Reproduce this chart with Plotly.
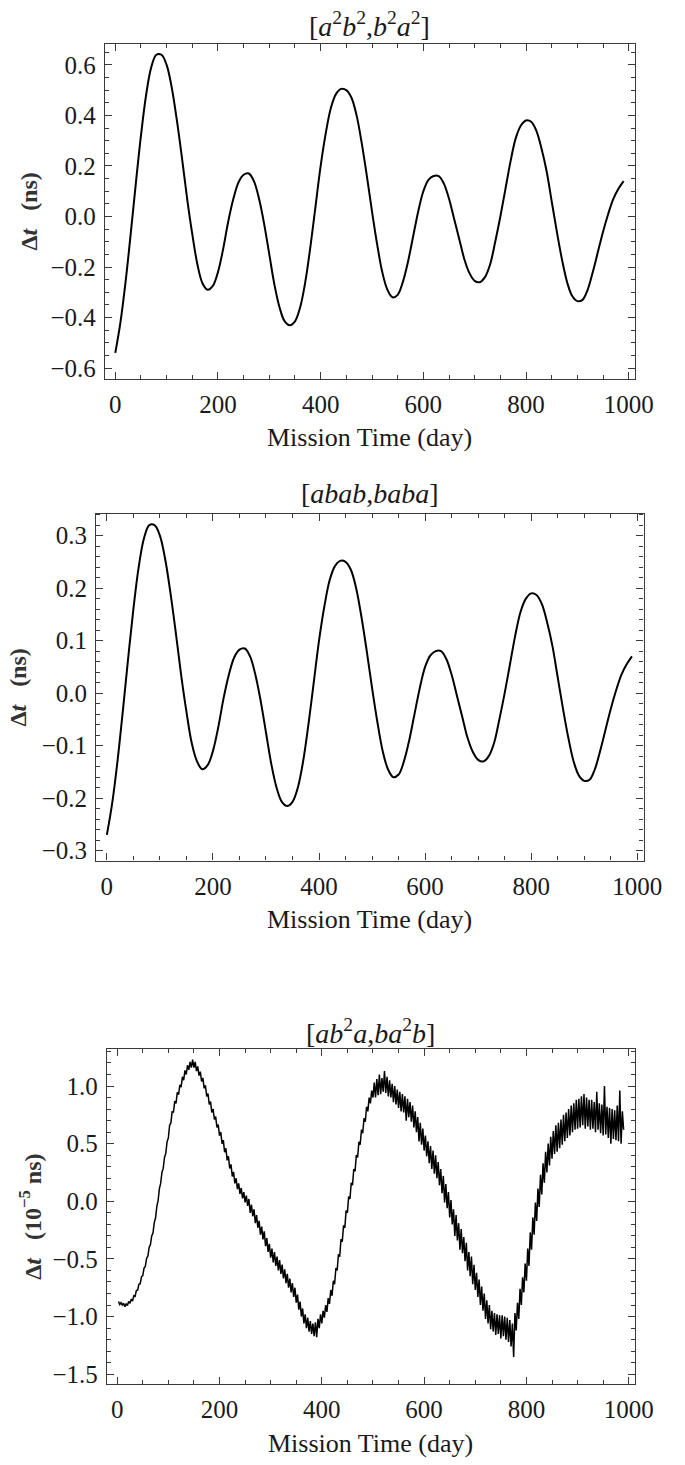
import plotly.graph_objects as go

# ---------------- data ----------------
days_smooth = list(range(0, 1000, 10))

dt_a2b2 = [-0.54, -0.42, -0.26, -0.07, 0.13, 0.32, 0.48, 0.59, 0.64, 0.64,
           0.60, 0.51, 0.38, 0.23, 0.07, -0.07, -0.19, -0.265, -0.29, -0.275,
           -0.22, -0.13, -0.02, 0.07, 0.135, 0.165, 0.17, 0.14, 0.07, -0.03,
           -0.15, -0.27, -0.36, -0.415, -0.43, -0.415, -0.36, -0.26, -0.12, 0.04,
           0.20, 0.33, 0.43, 0.485, 0.505, 0.50, 0.47, 0.40, 0.29, 0.16,
           0.02, -0.11, -0.22, -0.29, -0.32, -0.31, -0.26, -0.18, -0.08, 0.02,
           0.10, 0.145, 0.16, 0.16, 0.13, 0.07, -0.01, -0.09, -0.17, -0.225,
           -0.255, -0.26, -0.24, -0.19, -0.10, 0.00, 0.11, 0.22, 0.31, 0.36,
           0.38, 0.375, 0.34, 0.27, 0.18, 0.06, -0.06, -0.17, -0.26, -0.315,
           -0.335, -0.33, -0.29, -0.22, -0.14, -0.06, 0.01, 0.07, 0.11, 0.14]

dt_abab = [-0.27, -0.21, -0.13, -0.035, 0.065, 0.16, 0.24, 0.295, 0.32, 0.32,
           0.30, 0.255, 0.19, 0.115, 0.035, -0.035, -0.095, -0.13, -0.145, -0.137,
           -0.11, -0.065, -0.01, 0.035, 0.068, 0.083, 0.085, 0.07, 0.035, -0.015,
           -0.075, -0.135, -0.18, -0.207, -0.215, -0.207, -0.18, -0.13, -0.06, 0.02,
           0.10, 0.165, 0.215, 0.242, 0.252, 0.25, 0.235, 0.20, 0.145, 0.08,
           0.01, -0.055, -0.11, -0.145, -0.16, -0.155, -0.13, -0.09, -0.04, 0.01,
           0.05, 0.072, 0.08, 0.08, 0.065, 0.035, -0.005, -0.045, -0.085, -0.112,
           -0.127, -0.13, -0.12, -0.095, -0.05, 0.0, 0.055, 0.11, 0.155, 0.18,
           0.19, 0.187, 0.17, 0.135, 0.09, 0.03, -0.03, -0.085, -0.13, -0.157,
           -0.167, -0.165, -0.145, -0.11, -0.07, -0.03, 0.005, 0.035, 0.055, 0.07]

days_noisy = [k * 2.5 for k in range(1, 397)]

dt_ab2a = [
    -0.87, -0.895, -0.88, -0.90, -0.885, -0.915, -0.89, -0.905, -0.87, -0.885,
    -0.85, -0.865, -0.82, -0.825, -0.775, -0.77, -0.72, -0.715, -0.655, -0.645,
    -0.58, -0.565, -0.495, -0.475, -0.40, -0.375, -0.30, -0.275, -0.185, -0.145,
    -0.045, 0.005, 0.11, 0.155, 0.25, 0.285, 0.38, 0.415, 0.515, 0.55,
    0.66, 0.68, 0.78, 0.77, 0.87, 0.85, 0.945, 0.925, 1.01, 0.99,
    1.08, 1.05, 1.135, 1.10, 1.18, 1.14, 1.21, 1.16, 1.23, 1.16,
    1.21, 1.13, 1.17, 1.09, 1.125, 1.04, 1.07, 0.98, 1.005, 0.91,
    0.935, 0.84, 0.865, 0.77, 0.80, 0.71, 0.735, 0.64, 0.665, 0.57,
    0.60, 0.50, 0.53, 0.425, 0.46, 0.355, 0.39, 0.285, 0.32, 0.215,
    0.255, 0.155, 0.20, 0.105, 0.155, 0.065, 0.115, 0.025, 0.08, -0.01,
    0.05, -0.04, 0.02, -0.10, -0.03, -0.13, -0.07, -0.19, -0.12, -0.23,
    -0.17, -0.29, -0.22, -0.33, -0.26, -0.39, -0.32, -0.44, -0.37, -0.49,
    -0.41, -0.53, -0.44, -0.56, -0.48, -0.60, -0.51, -0.63, -0.55, -0.67,
    -0.59, -0.71, -0.63, -0.75, -0.67, -0.79, -0.71, -0.83, -0.75, -0.88,
    -0.81, -0.94, -0.87, -1.00, -0.93, -1.06, -0.98, -1.10, -1.01, -1.13,
    -1.04, -1.15, -1.06, -1.17, -1.05, -1.18, -1.02, -1.10, -0.98, -1.06,
    -0.95, -1.01, -0.90, -0.96, -0.84, -0.89, -0.77, -0.82, -0.69, -0.72,
    -0.58, -0.60, -0.46, -0.48, -0.33, -0.35, -0.21, -0.23, -0.08, -0.10,
    0.04, 0.02, 0.16, 0.14, 0.28, 0.26, 0.40, 0.38, 0.515, 0.49,
    0.62, 0.59, 0.72, 0.69, 0.82, 0.78, 0.90, 0.85, 0.96, 0.90,
    1.03, 0.90, 1.06, 0.92, 1.10, 0.93, 1.07, 0.95, 1.13, 0.94,
    1.08, 0.91, 1.05, 0.90, 1.02, 0.86, 1.00, 0.84, 0.97, 0.81,
    0.95, 0.78, 0.93, 0.77, 0.91, 0.70, 0.89, 0.73, 0.86, 0.69,
    0.83, 0.64, 0.78, 0.60, 0.73, 0.52, 0.68, 0.49, 0.63, 0.44,
    0.57, 0.39, 0.52, 0.33, 0.48, 0.28, 0.44, 0.24, 0.40, 0.20,
    0.34, 0.14, 0.28, 0.07, 0.22, -0.01, 0.15, -0.06, 0.08, -0.14,
    0.01, -0.20, -0.07, -0.30, -0.12, -0.34, -0.19, -0.42, -0.24, -0.45,
    -0.31, -0.52, -0.36, -0.60, -0.44, -0.65, -0.48, -0.72, -0.55, -0.77,
    -0.62, -0.83, -0.68, -0.90, -0.74, -0.95, -0.80, -1.02, -0.86, -1.06,
    -0.90, -1.11, -0.95, -1.13, -0.97, -1.16, -0.98, -1.15, -0.99, -1.19,
    -0.99, -1.17, -1.00, -1.20, -1.01, -1.22, -1.03, -1.26, -1.06, -1.35,
    -0.97, -1.12, -0.88, -1.02, -0.76, -0.90, -0.66, -0.79, -0.54, -0.69,
    -0.41, -0.56, -0.27, -0.42, -0.14, -0.29, -0.01, -0.17, 0.11, -0.05,
    0.23, 0.06, 0.33, 0.16, 0.43, 0.25, 0.50, 0.31, 0.56, 0.37,
    0.61, 0.41, 0.66, 0.43, 0.68, 0.46, 0.71, 0.49, 0.75, 0.52,
    0.77, 0.55, 0.80, 0.57, 0.83, 0.60, 0.85, 0.62, 0.88, 0.63,
    0.89, 0.64, 0.91, 0.66, 0.93, 0.63, 0.90, 0.65, 0.88, 0.62,
    0.88, 0.63, 0.86, 0.60, 0.95, 0.62, 0.85, 0.59, 0.84, 0.57,
    1.00, 0.58, 0.82, 0.55, 0.81, 0.50, 0.80, 0.54, 0.79, 0.53,
    0.83, 0.52, 0.96, 0.50, 0.78, 0.62]

titles = ["[<i>a</i><sup>2</sup><i>b</i><sup>2</sup>,<i>b</i><sup>2</sup><i>a</i><sup>2</sup>]",
          "[<i>abab</i>,<i>baba</i>]",
          "[<i>ab</i><sup>2</sup><i>a</i>,<i>ba</i><sup>2</sup><i>b</i>]"]
ylabels = ["<b>Δ<i>t</i>\u00a0\u00a0\u00a0(ns)</b>",
           "<b>Δ<i>t</i>\u00a0\u00a0\u00a0(ns)</b>",
           "<b>Δ<i>t</i>\u00a0\u00a0\u00a0(10<sup>−5</sup>\u00a0ns)</b>"]
xlabel = "Mission Time (day)"

# ---------------- layout constants (pixels) ----------------
W, H = 685, 1465
FONT = "Liberation Serif"
frames = [  # left, right, top, bottom
    (108, 653, 44, 380),
    (99, 662, 515, 863),
    (110, 653, 1052, 1388),
]
title_y = [25, 495, 1034]
ylab_x = [30, 19, 31]
yranges = [(-0.643, 0.683), (-0.319, 0.342), (-1.587, 1.32)]
ydticks = [0.2, 0.1, 0.5]
yminor = [0.05, 0.02, 0.1]
line_w = [2.0, 2.0, 1.5]

fig = go.Figure()
series = [(days_smooth, dt_a2b2, "spline"), (days_smooth, dt_abab, "spline"),
          (days_noisy, dt_ab2a, "linear")]

annotations = []
for i, ((xs, ys, shape), (l, r, t, b)) in enumerate(zip(series, frames)):
    sfx = "" if i == 0 else str(i + 1)
    fig.add_trace(go.Scatter(x=xs, y=ys, mode="lines", xaxis="x" + sfx, yaxis="y" + sfx,
                             line=dict(color="black", width=line_w[i], shape=shape),
                             showlegend=False, hoverinfo="skip"))
    axis_common = dict(showline=True, linecolor="#3a3a3a", linewidth=1.3, mirror="allticks",
                       ticks="inside", ticklen=7, tickwidth=1.2, tickcolor="#3a3a3a",
                       showgrid=False, zeroline=False,
                       tickfont=dict(family=FONT, size=25, color="#1a1a1a"),
                       ticklabelstandoff=3)
    fig.layout["xaxis" + sfx] = dict(
        axis_common, domain=[l / W, r / W], range=[-20, 1012], anchor="y" + sfx,
        tick0=0, dtick=200,
        minor=dict(ticks="inside", ticklen=4, tickwidth=1.0, tickcolor="#3a3a3a", dtick=50, tick0=0))
    fig.layout["yaxis" + sfx] = dict(
        axis_common, domain=[1 - b / H, 1 - t / H], range=list(yranges[i]), anchor="x" + sfx,
        tick0=0, dtick=ydticks[i], tickformat=".1f",
        minor=dict(ticks="inside", ticklen=4, tickwidth=1.0, tickcolor="#3a3a3a",
                   dtick=yminor[i], tick0=0))
    cx = (l + r) / 2 / W
    annotations.append(dict(text=titles[i], x=cx, y=1 - title_y[i] / H, xref="paper", yref="paper",
                            xanchor="center", yanchor="middle", showarrow=False,
                            font=dict(family=FONT, size=28, color="#1a1a1a")))
    annotations.append(dict(text=xlabel, x=cx, y=1 - (b + 59) / H, xref="paper", yref="paper",
                            xanchor="center", yanchor="middle", showarrow=False,
                            font=dict(family=FONT, size=26, color="#1a1a1a")))
    annotations.append(dict(text=ylabels[i], x=ylab_x[i] / W, y=1 - (t + b) / 2 / H,
                            xref="paper", yref="paper", xanchor="center", yanchor="middle",
                            textangle=-90, showarrow=False,
                            font=dict(family=FONT, size=24, color="#333333")))

fig.update_layout(width=W, height=H, margin=dict(l=0, r=0, t=0, b=0),
                  paper_bgcolor="white", plot_bgcolor="white",
                  annotations=annotations, showlegend=False)

fig.write_html("out.html")
